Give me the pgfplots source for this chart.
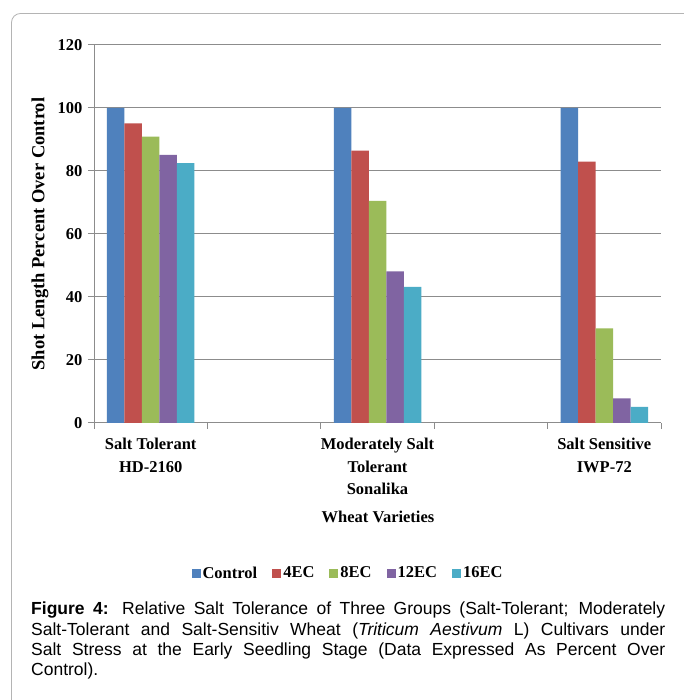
\documentclass[border=0pt]{standalone}
\usepackage{pgfplots}
\pgfplotsset{compat=1.18}
\usepackage{fontspec}
\setmainfont{Liberation Serif}
\newfontfamily\arial{Liberation Sans}
\definecolor{c1}{HTML}{4F81BD}
\definecolor{c2}{HTML}{C0504D}
\definecolor{c3}{HTML}{9BBB59}
\definecolor{c4}{HTML}{8064A2}
\definecolor{c5}{HTML}{4BACC6}
\definecolor{gridc}{HTML}{8C8C8C}
\definecolor{framec}{HTML}{B4B4B4}
\begin{document}
\begin{tikzpicture}[x=1pt,y=1pt]
\useasboundingbox (0,0) rectangle (683,700);
\fill[white] (0,0) rectangle (683,700);
\draw[framec, line width=0.8pt, rounded corners=9pt] (11.5,-20) -- (11.5,686.5) -- (720,686.5);
\begin{axis}[
  at={(94pt,277pt)}, anchor=south west,
  scale only axis, width=567pt, height=378pt,
  ybar=0pt, bar width=17.5pt,
  xmin=-0.5, xmax=4.5, ymin=0, ymax=120,
  ytick={0,20,...,120},
  xtick={-0.5,0.5,...,4.5}, xticklabels={},
  extra x ticks={0,2,4},
  extra x tick labels={Salt Tolerant\\HD-2160, Moderately Salt\\Tolerant\\Sonalika, Salt Sensitive\\IWP-72},
  extra x tick style={major tick length=0pt, grid=none},
  tick align=outside, major tick length=6pt,
  ymajorgrids, grid style={gridc, line width=1pt},
  axis line style={gridc, line width=1pt},
  tick style={gridc, line width=1pt},
  axis x line*=bottom, axis y line*=left,
  /pgf/number format/assume math mode=true,
  yticklabel style={font=\fontsize{16.5}{18}\selectfont\bfseries, xshift=-2pt},
  xticklabel style={font=\fontsize{16.5}{22.5}\selectfont\bfseries, align=center, yshift=-12pt},
  ylabel={Shot Length Percent Over Control},
  ylabel style={at={(axis description cs:-0.0952,0.5)}, anchor=center, font=\fontsize{18.5}{20}\selectfont\bfseries},
  xlabel={Wheat Varieties},
  xlabel style={at={(axis description cs:0.5009,-0.2487)}, anchor=center, font=\fontsize{16.5}{18}\selectfont\bfseries},
  legend columns=5,
  legend style={at={(axis description cs:0.448,-0.397)}, anchor=center, draw=none,
    font=\fontsize{16.5}{18}\selectfont\bfseries,
    /tikz/every even column/.append style={column sep=13pt}},
  legend image code/.code={\fill[#1] (0pt,-4.5pt) rectangle (9pt,4.5pt);},
]
\addplot[fill=c1, draw=none] coordinates {(0,100) (2,100) (4,100)};
\addplot[fill=c2, draw=none] coordinates {(0,95.1) (2,86.5) (4,83.0)};
\addplot[fill=c3, draw=none] coordinates {(0,90.9) (2,70.5) (4,30.0)};
\addplot[fill=c4, draw=none] coordinates {(0,85.1) (2,48.1) (4,7.8)};
\addplot[fill=c5, draw=none] coordinates {(0,82.5) (2,43.2) (4,5.1)};
\legend{Control,4EC,8EC,12EC,16EC}
\end{axis}
\node[anchor=north west, text width=634pt, inner sep=0pt, align=justify,
  font=\arial\fontsize{17.5}{20.3}\selectfont] at (31,98) {%
\textbf{Figure 4:} Relative Salt Tolerance of Three Groups (Salt-Tolerant; Moderately\linebreak
Salt-Tolerant and Salt-Sensitiv Wheat (\textit{Triticum Aestivum} L) Cultivars under\linebreak
Salt Stress at the Early Seedling Stage (Data Expressed As Percent Over\linebreak
Control).};
\end{tikzpicture}
\end{document}
